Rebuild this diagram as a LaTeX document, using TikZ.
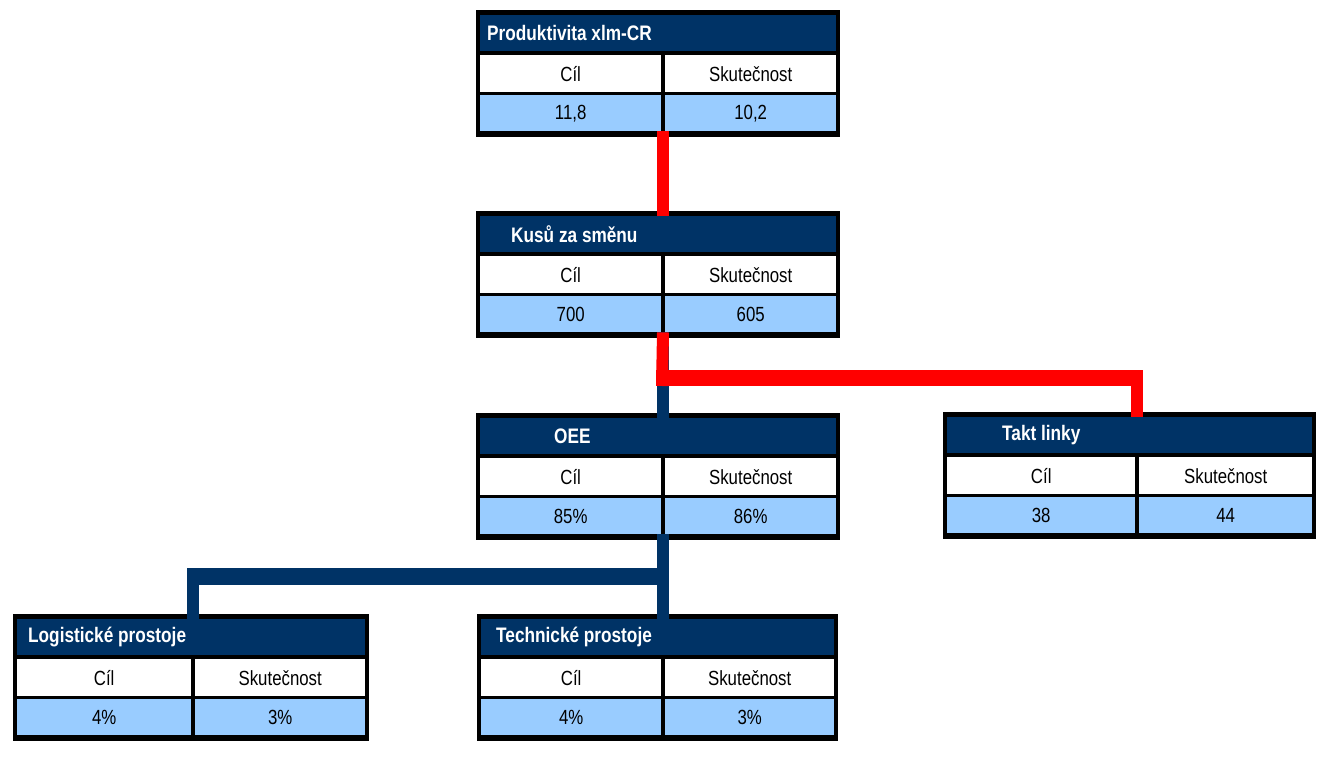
\documentclass[tikz,border=0pt]{standalone}
\usepackage{fontspec}
\setmainfont[FakeStretch=0.82]{Liberation Sans}
\usetikzlibrary{positioning,calc}

\definecolor{kpinavy}{RGB}{0,51,102}
\definecolor{kpisky}{RGB}{153,204,255}
\definecolor{kpired}{RGB}{255,0,0}

\tikzset{
  boxframe/.style={fill=black, inner sep=0pt, minimum height=127pt},
  headcell/.style={fill=kpinavy, inner sep=0pt, minimum height=36pt, anchor=north west},
  headtext/.style={text=white, inner sep=0pt, anchor=west, font=\bfseries\fontsize{21}{25}\selectfont},
  labelcell/.style={fill=white, inner sep=0pt, minimum height=37pt, anchor=north west, font=\fontsize{20.5}{24}\selectfont},
  valuecell/.style={fill=kpisky, inner sep=0pt, minimum height=36pt, anchor=north west, font=\fontsize{20.5}{24}\selectfont},
  redlink/.style={draw=kpired, line width=12pt},
  bluelink/.style={draw=kpinavy, line width=12pt}
}

% name, X, Y, width, split, title indent, title, target, actual
\newcommand{\kpibox}[9]{%
  \node[boxframe, minimum width=#4pt, anchor=north west] (#1) at (#2,#3) {};
  \coordinate (#1-split) at ({#2+#5},#3);
  \node[headcell, minimum width=#4pt-8pt] (#1-t) at ({#2+4},{#3+5}) {};
  \node[headtext] (#1-n) at ([xshift=#6pt-4pt]#1-t.west) {#7};
  \node[labelcell, minimum width=#5pt-6pt] (#1-l1) at ({#2+4},{#3+45}) {Cíl};
  \node[labelcell, minimum width=#4pt-#5pt-6pt] (#1-l2) at ({#2+#5+2},{#3+45}) {Skutečnost};
  \node[valuecell, minimum width=#5pt-6pt] (#1-v1) at ({#2+4},{#3+85}) {#8};
  \node[valuecell, minimum width=#4pt-#5pt-6pt] (#1-v2) at ({#2+#5+2},{#3+85}) {#9};
}

\begin{document}
\begin{tikzpicture}[x=1pt, y=-1pt]
\useasboundingbox[fill=white] (0,0) rectangle (1321,757);

% boxes
\kpibox{prod}{476}{10}{364}{187}{11}{Produktivita xlm-CR}{11,8}{10,2}
\kpibox{kus}{476}{211}{364}{187}{35}{Kusů za směnu}{700}{605}
\kpibox{oee}{476}{413}{364}{187}{78}{OEE}{85\%}{86\%}
\kpibox{takt}{943}{412}{373}{194}{59}{Takt linky}{38}{44}
\kpibox{log}{13}{614}{356}{180}{15}{Logistické prostoje}{4\%}{3\%}
\kpibox{tech}{477}{614}{361}{186}{19}{Technické prostoje}{4\%}{3\%}

% links
\coordinate (kus-elbow) at (662,378);
\coordinate (oee-elbow) at (662,576);

\draw[redlink] (prod-v1.south -| prod-split) -- (kus-t.north -| kus-split);

\draw[bluelink] (kus-v1.south -| kus-split) -- (oee-t.north -| oee-split);
\draw[redlink] (kus-v1.south -| kus-split) -- ([yshift=-8pt]kus-elbow);
\draw[redlink, line width=16pt] ([xshift=-6pt]kus-elbow) -- ([xshift=6pt]kus-elbow -| takt-split);
\draw[redlink] (kus-elbow -| takt-split) -- (takt-t.north -| takt-split);

\draw[bluelink] (oee-v1.south -| oee-split) -- (tech-t.north -| tech-split);
\draw[bluelink, line width=17pt] ([xshift=6pt]oee-elbow) -- ([xshift=-6pt]oee-elbow -| log-split);
\draw[bluelink] (oee-elbow -| log-split) -- (log-t.north -| log-split);
\end{tikzpicture}
\end{document}
